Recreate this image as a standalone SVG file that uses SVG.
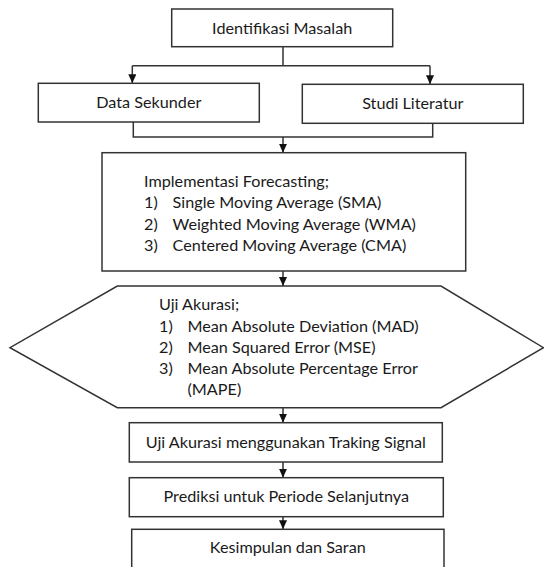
<svg xmlns="http://www.w3.org/2000/svg" width="544" height="567" viewBox="0 0 544 567">
<style>
.box{fill:#fff;stroke:#333;stroke-width:1.5}
.t{font-family:Lato,"Liberation Sans",sans-serif;font-size:16.2px;fill:#1a1a1a}
.c{text-anchor:middle}
.ln{fill:none;stroke:#333;stroke-width:1.5}
</style>
<defs>
<marker id="ah" markerUnits="userSpaceOnUse" markerWidth="10" markerHeight="10" refX="9" refY="4" orient="auto">
<path d="M0,0 L9,4 L0,8 z" fill="#111"/>
</marker>
</defs>
<rect width="544" height="567" fill="#fff"/>
<g id="connectors">
<path class="ln" d="M283,46.7 V65.7"/>
<path class="ln" d="M132.3,65.7 H430"/>
<path class="ln" d="M132.3,65.7 V83.3" marker-end="url(#ah)"/>
<path class="ln" d="M430,65.7 V84.3" marker-end="url(#ah)"/>
<path class="ln" d="M133.3,122 V137 H432.7 V123.3"/>
<path class="ln" d="M283,137 V152.7" marker-end="url(#ah)"/>
<path class="ln" d="M283,271 V286" marker-end="url(#ah)"/>
<path class="ln" d="M283,408 V422.7" marker-end="url(#ah)"/>
<path class="ln" d="M283,462 V477.7" marker-end="url(#ah)"/>
<path class="ln" d="M283,516.7 V529.3" marker-end="url(#ah)"/>
</g>
<g id="identifikasi">
<rect class="box" x="171.7" y="9" width="221" height="37.7"/>
<text class="t c" x="282.2" y="34">Identifikasi Masalah</text>
</g>
<g id="data-sekunder">
<rect class="box" x="38.3" y="83.3" width="221" height="38.7"/>
<text class="t c" x="148.8" y="108">Data Sekunder</text>
</g>
<g id="studi-literatur">
<rect class="box" x="302.3" y="84.3" width="221" height="39"/>
<text class="t c" x="412.8" y="108.5">Studi Literatur</text>
</g>
<g id="implementasi">
<rect class="box" x="102" y="152.7" width="363.7" height="118.3"/>
<text class="t" x="144" y="186.5">Implementasi Forecasting;</text>
<text class="t" x="144" y="208">1)</text><text class="t" x="172.6" y="208">Single Moving Average (SMA)</text>
<text class="t" x="144" y="229.5">2)</text><text class="t" x="172.6" y="229.5">Weighted Moving Average (WMA)</text>
<text class="t" x="144" y="251">3)</text><text class="t" x="172.6" y="251">Centered Moving Average (CMA)</text>
</g>
<g id="uji-akurasi">
<polygon class="box" points="117.3,286 441,286 543.5,347.7 441,407.7 117.3,407.7 10,347.7"/>
<text class="t" x="159" y="310">Uji Akurasi;</text>
<text class="t" x="159" y="331.5">1)</text><text class="t" x="187.5" y="331.5">Mean Absolute Deviation (MAD)</text>
<text class="t" x="159" y="352.5">2)</text><text class="t" x="187.5" y="352.5">Mean Squared Error (MSE)</text>
<text class="t" x="159" y="374">3)</text><text class="t" x="187.5" y="374">Mean Absolute Percentage Error</text>
<text class="t" x="187.5" y="395">(MAPE)</text>
</g>
<g id="traking-signal">
<rect class="box" x="129.3" y="422.7" width="313" height="39.3"/>
<text class="t c" x="285.8" y="447.5">Uji Akurasi menggunakan Traking Signal</text>
</g>
<g id="prediksi">
<rect class="box" x="129.3" y="477.7" width="314" height="39"/>
<text class="t c" x="286.3" y="502">Prediksi untuk Periode Selanjutnya</text>
</g>
<g id="kesimpulan">
<rect class="box" x="131.7" y="529.3" width="312.3" height="45"/>
<text class="t c" x="287.8" y="553">Kesimpulan dan Saran</text>
</g>
</svg>
